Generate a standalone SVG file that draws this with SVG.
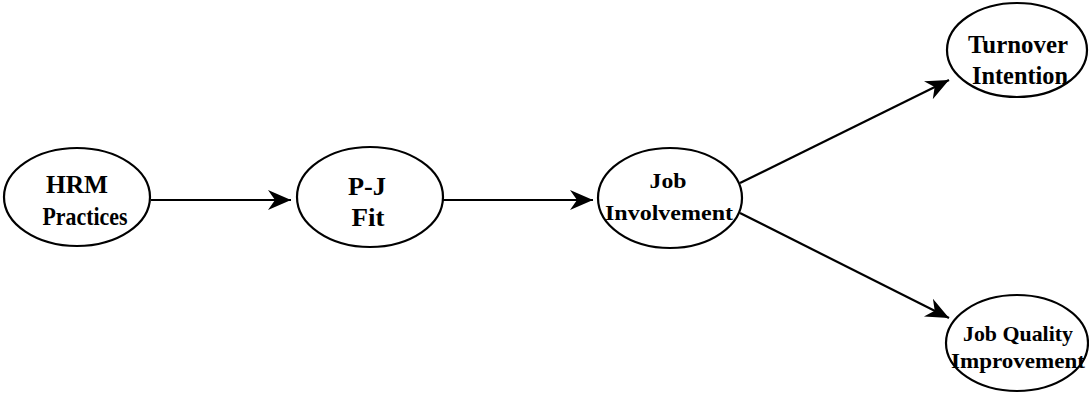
<svg xmlns="http://www.w3.org/2000/svg" width="1089" height="394" viewBox="0 0 1089 394">
<style>
.node ellipse{fill:#fff;stroke:#000;stroke-width:2.2}
.node text{font-family:"Liberation Serif","Times New Roman",serif;font-weight:bold;fill:#000;text-anchor:middle}
.t26{font-size:26px}
.t22{font-size:22px}
.t21{font-size:21px}
.edge{stroke:#000;stroke-width:2.2;fill:none;marker-end:url(#arr)}
</style>
<defs>
<marker id="arr" markerUnits="userSpaceOnUse" markerWidth="24" markerHeight="22" refX="23" refY="11" orient="auto" viewBox="0 0 24 22">
<path d="M0,1 L23,11 L0,21 L7,11 Z" fill="#000"/>
</marker>
</defs>
<g id="connectors">
<line class="edge" x1="151" y1="200" x2="291" y2="200"/>
<line class="edge" x1="443" y1="200" x2="593" y2="200"/>
<line class="edge" x1="740" y1="183" x2="949" y2="80"/>
<line class="edge" x1="740" y1="213" x2="949" y2="318"/>
</g>
<g id="hrm" class="node">
<ellipse cx="77" cy="197" rx="73" ry="49"/>
<text class="t26" x="77" y="193" textLength="62" lengthAdjust="spacingAndGlyphs">HRM</text>
<text class="t26" x="85" y="225" textLength="85" lengthAdjust="spacingAndGlyphs">Practices</text>
</g>
<g id="pjfit" class="node">
<ellipse cx="370" cy="197" rx="73" ry="50"/>
<text class="t26" x="367" y="195" textLength="38" lengthAdjust="spacingAndGlyphs">P-J</text>
<text class="t26" x="368" y="226" textLength="33" lengthAdjust="spacingAndGlyphs">Fit</text>
</g>
<g id="jobinv" class="node">
<ellipse cx="670" cy="198" rx="72" ry="50"/>
<text class="t22" x="668" y="188" textLength="37" lengthAdjust="spacingAndGlyphs">Job</text>
<text class="t22" x="669" y="220" textLength="128" lengthAdjust="spacingAndGlyphs">Involvement</text>
</g>
<g id="turnover" class="node">
<ellipse cx="1017" cy="50" rx="70" ry="47"/>
<text class="t26" x="1018" y="53" textLength="100" lengthAdjust="spacingAndGlyphs">Turnover</text>
<text class="t26" x="1020" y="84" textLength="96" lengthAdjust="spacingAndGlyphs">Intention</text>
</g>
<g id="jobquality" class="node">
<ellipse cx="1017" cy="343" rx="71" ry="48"/>
<text class="t21" x="1018" y="341" textLength="110" lengthAdjust="spacingAndGlyphs">Job Quality</text>
<text class="t21" x="1018" y="368" textLength="134" lengthAdjust="spacingAndGlyphs">Improvement</text>
</g>
</svg>
